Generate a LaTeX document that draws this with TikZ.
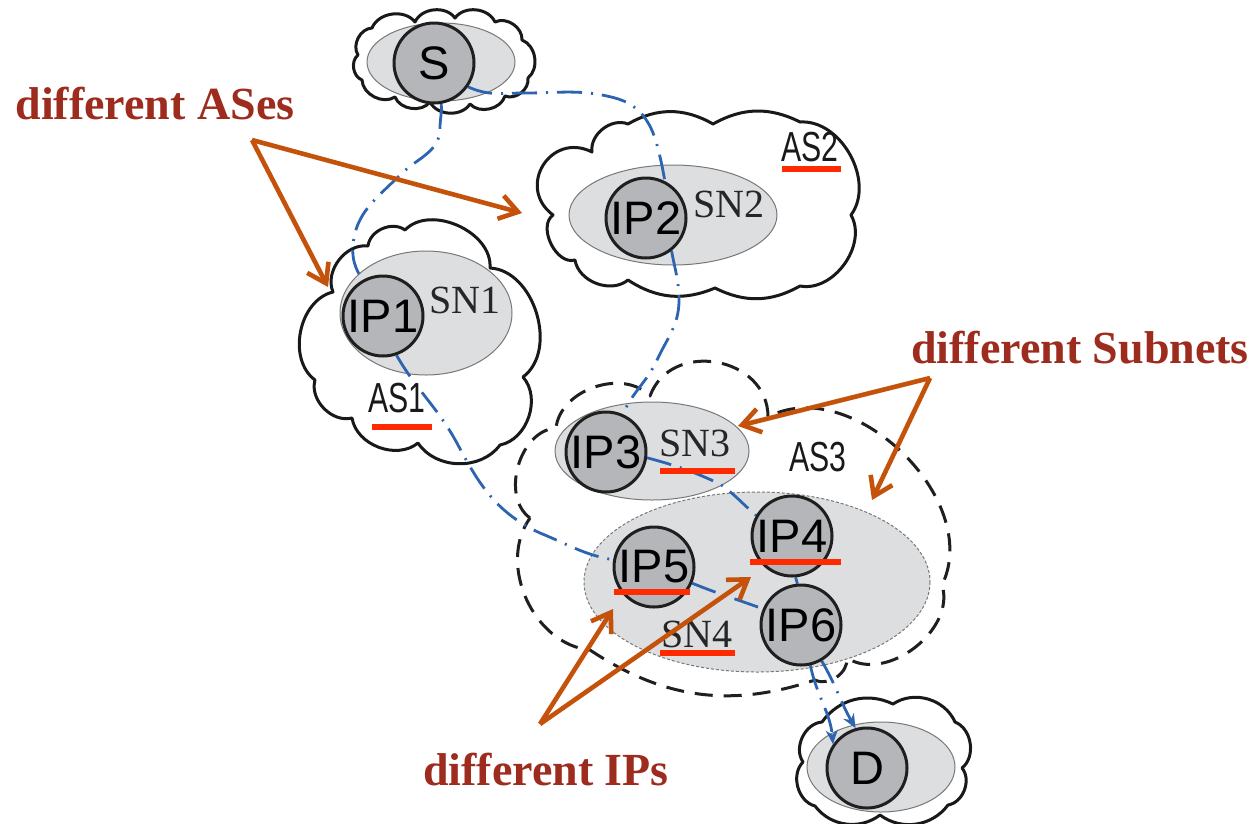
\documentclass[tikz,border=0pt]{standalone}
\usepackage{fontspec}
\usepackage{graphicx}
\usetikzlibrary{arrows.meta}
\newfontfamily\hostfont{Liberation Sans}
\newfontfamily\netfont{Liberation Serif}
\definecolor{hostgray}{RGB}{181,182,185}
\definecolor{netgray}{RGB}{221,222,224}
\definecolor{netedge}{RGB}{120,120,120}
\definecolor{routeblue}{RGB}{44,100,176}
\definecolor{calloutorange}{RGB}{196,82,10}
\definecolor{notered}{RGB}{158,44,30}
\definecolor{markred}{RGB}{255,42,0}
\pgfdeclarelayer{back}
\pgfdeclarelayer{wires}
\pgfsetlayers{back,wires,main}

\begin{document}
\begin{tikzpicture}[x=1pt,y=-1pt,
  cloudline/.style={draw=black!90,line width=3pt,fill=white,line join=round},
  as3line/.style={draw=black!88,line width=3pt,dash pattern=on 18pt off 11pt,line join=round},
  puff/.style={bend left=#1}, puff/.default=60,
  subnet/.style={fill=netgray,draw=netedge,line width=1pt},
  host/.style={circle,draw=black!88,line width=3pt,fill=hostgray,minimum size=80pt,inner sep=0pt,
    font=\hostfont\fontsize{47}{50}\selectfont},
  netlabel/.style={inner sep=0pt,font=\netfont\fontsize{40}{44}\selectfont,text=black!85},
  aslabel/.style={inner sep=0pt,font=\hostfont\fontsize{42}{46}\selectfont,text=black!90},
  route/.style={draw=routeblue,line width=2.8pt,dash pattern=on 25pt off 9pt on 2pt off 9pt},
  routetip/.style={-{Stealth[length=14pt,width=12pt]}},
  redline/.style={draw=markred,line width=6pt},
  callout/.style={draw=calloutorange,line width=4.6pt,-{Straight Barb[length=18pt,width=24pt]}},
  note/.style={inner sep=0pt,text=notered,font=\netfont\bfseries\fontsize{46}{50}\selectfont}]
\useasboundingbox (0,0) rectangle (1260,823);

% ---------- hosts ----------
\node[host] (S)   at (434,63)  {S};
\node[host] (IP1) at (383,316) {IP1};
\node[host] (IP2) at (646,218) {IP2};
\node[host] (IP3) at (606,452) {IP3};
\node[host] (IP4) at (792,536) {IP4};
\node[host] (IP5) at (654,567) {IP5};
\node[host] (IP6) at (801,625) {IP6};
\node[host] (D)   at (867,768) {D};

% ---------- clouds and subnets ----------
\begin{pgfonlayer}{back}
\fill[white] (0,0) rectangle (1260,823);
% source cloud
\draw[cloudline] (358,55) to[puff] (372,28) to[puff] (415,22) to[puff] (455,18) to[puff] (495,22)
  to[puff] (522,40) to[puff] (528,78) to[puff] (505,96) to[puff] (470,104) to[puff] (430,102)
  to[puff] (395,97) to[puff] (362,80) to[puff] (358,55) -- cycle;
% AS2
\draw[cloudline] (553,215) to[puff=85,looseness=1.6] (592,152) to[puff] (628,124) to[puff=30] (713,124)
  to[puff=28] (800,122) to[puff=65] (851,215) to[puff=65] (800,286) to[puff=28] (715,288)
  to[puff=28] (628,280) to[puff] (575,260) to[puff=80] (553,215) -- cycle;
% AS1
\draw[cloudline] (333,292) to[puff] (368,246) to[puff] (405,230) to[puff=70] (490,268)
  to[puff=70] (523,377) to[puff] (500,445) to[puff=55] (418,443) to[puff] (352,418)
  to[puff] (315,380) to[puff=65] (333,292) -- cycle;
% destination cloud
\draw[cloudline] (822,722) to[puff=40] (893,704) to[puff=50] (955,722) to[puff] (962,768)
  to[puff] (948,805) to[puff=45] (880,815) to[puff=45] (815,806) to[puff] (803,762)
  to[puff] (822,722) -- cycle;
% AS3 (dashed)
\draw[as3line] (530,518) to[puff=70] (556,428) to[puff=65] (650,396) to[puff=80,looseness=1.3] (768,417)
  to[puff=72] (942,585) to[puff=70] (847,658) to[puff] (815,680) to[puff=26] (590,650)
  to[puff] (530,518);
% subnets
\draw[subnet] (441,62) ellipse [x radius=74,y radius=39];
\draw[subnet] (426,313) ellipse [x radius=86,y radius=62];
\draw[subnet] (673,215) ellipse [x radius=104,y radius=50];
\draw[subnet] (652,451) ellipse [x radius=97,y radius=49];
\draw[subnet,dash pattern=on 3pt off 2pt] (757,582) ellipse [x radius=173,y radius=90];
\draw[subnet] (881,767) ellipse [x radius=74,y radius=45];
\end{pgfonlayer}

% ---------- routes ----------
\begin{pgfonlayer}{wires}
\draw[route] (S.-80) to[out=-85,in=90] (440,128) to[out=-90,in=45] (400,175)
  to[out=225,in=85] (353,245) to[out=-95,in=120] (IP1.120);
\draw[route] (S.-35) to[out=-25,in=180] (525,93) to[out=0,in=165] (615,98)
  to[out=-15,in=105] (657,145) to[out=-75,in=100] (IP2.63);
\draw[route] (IP2.-52) to[out=-80,in=90] (679,300) to[out=-90,in=65] (657,360)
  to[out=245,in=66] (IP3.66);
\draw[route] (IP1.-71) to[out=-60,in=118] (458,445) to[out=-62,in=155] (540,533)
  to[out=-22,in=170] (IP5.170);
\draw[route] (IP3.-8) to[out=-15,in=155] (720,484) to[out=-35,in=140] (IP4.150);
\draw[route] (IP5.-23) to[out=-22,in=160] (IP6.157);
\draw[route] (IP4.-85) -- (IP6.95);
\draw[route,routetip] (IP6.-77) to[out=-78,in=95] (D.145);
\draw[route,routetip] (IP6.-60) to[out=-60,in=120] (D.106);
\end{pgfonlayer}

% ---------- labels ----------
\node[netlabel] (sn1) at (465,300) {SN1};
\node[netlabel] (sn2) at (729,204) {SN2};
\node[netlabel] (sn3) at (695,443) {SN3};
\node[netlabel] (sn4) at (697,634) {SN4};
\node[aslabel] (as1) at (397,398) {\scalebox{0.72}[1]{AS1}};
\node[aslabel] (as2) at (810,147) {\scalebox{0.72}[1]{AS2}};
\node[aslabel] (as3) at (818,457) {\scalebox{0.72}[1]{AS3}};

% red underlines
\draw[redline] (782,169) -- (841,169);
\draw[redline] (372,427) -- (432,427);
\draw[redline] (660,471) -- (735,471);
\draw[redline] (750,562) -- (841,562);
\draw[redline] (614,592) -- (690,592);
\draw[redline] (660,653) -- (735,653);

% ---------- callouts ----------
\node[note,anchor=base] (noteAS) at (155,119) {different ASes};
\node[note,anchor=base] (noteSN) at (1080,363) {different Subnets};
\node[note,anchor=base] (noteIP) at (546,785) {different IPs};
\coordinate (forkAS) at (252,140);
\coordinate (forkSN) at (930,378);
\coordinate (forkIP) at (540,724);
\coordinate (tipAS2) at (522,213);
\coordinate (tipAS1) at (328,287);
\coordinate (tipSN3) at (738,426);
\coordinate (tipSN4) at (872,500);
\coordinate (tipIP5) at (613,609);
\coordinate (tipIP4) at (751,577);
\draw[callout] (forkAS) -- (tipAS2);
\draw[callout] (forkAS) -- (tipAS1);
\draw[callout] (forkSN) -- (tipSN3);
\draw[callout] (forkSN) -- (tipSN4);
\draw[callout] (forkIP) -- (tipIP5);
\draw[callout] (forkIP) -- (tipIP4);
\end{tikzpicture}
\end{document}
